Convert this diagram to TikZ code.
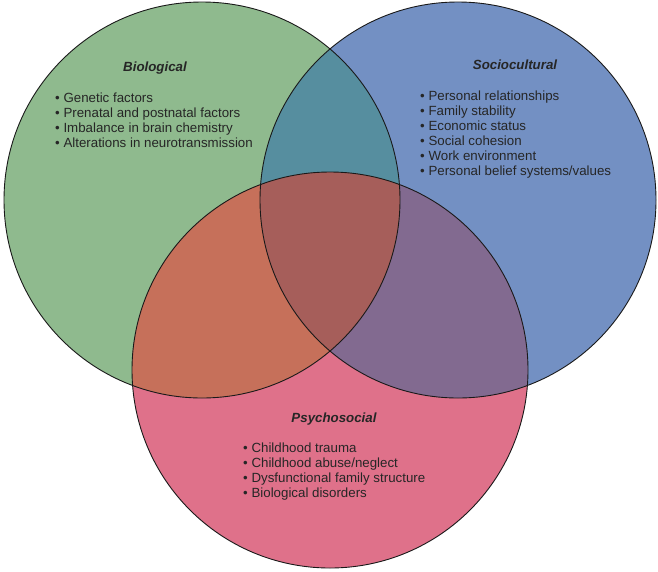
\documentclass[tikz,border=0pt]{standalone}
\usepackage{fontspec}
\setmainfont{Liberation Sans}
\definecolor{bioboja}{RGB}{143,186,142}
\definecolor{socboja}{RGB}{115,144,195}
\definecolor{psiboja}{RGB}{223,113,138}
\definecolor{biosoc}{RGB}{86,142,159}
\definecolor{biopsi}{RGB}{198,112,90}
\definecolor{socpsi}{RGB}{130,106,144}
\definecolor{sredina}{RGB}{166,94,90}
\tikzset{
  krug/.style={draw=black!90,line width=0.9pt},
  naslov/.style={font=\fontsize{13.3}{15}\selectfont\bfseries\itshape,text=black!85,
                 anchor=base,inner sep=0pt},
  stavka/.style={font=\fontsize{13.3}{15}\selectfont,text=black!85,
                 anchor=base west,inner sep=0pt},
}

\begin{document}
\begin{tikzpicture}[x=1pt,y=-1pt]
  \useasboundingbox (0,0) rectangle (658,571);

  % ---------- CENTRI KRUGOVA ----------
  \coordinate (bio) at (202,200);
  \coordinate (soc) at (458,200);
  \coordinate (psi) at (330,370);

  % ---------- POVRSINE ----------
  \fill[bioboja] (bio) circle (198pt);
  \fill[socboja] (soc) circle (198pt);
  \fill[psiboja] (psi) circle (198pt);

  % preseci: prvo soc/psi, pa sve sto sece bio
  \begin{scope}
    \clip (soc) circle (198pt);
    \fill[socpsi] (psi) circle (198pt);
  \end{scope}
  \begin{scope}
    \clip (bio) circle (198pt);
    \fill[biosoc] (soc) circle (198pt);
    \fill[biopsi] (psi) circle (198pt);
    \clip (soc) circle (198pt);
    \fill[sredina] (psi) circle (198pt);
  \end{scope}

  \foreach \c in {bio,soc,psi}
    \draw[krug] (\c) circle (198pt);

  % ---------- BIOLOSKI ----------
  \node[naslov] (bioNaslov) at (155,71) {Biological};
  \foreach \t [count=\i] in {Genetic factors,Prenatal and postnatal factors,
      Imbalance in brain chemistry,Alterations in neurotransmission}
    \node[stavka] (bio\i) at (55,{102+15*(\i-1)}) {• \t};

  % ---------- SOCIOKULTURNI ----------
  \node[naslov] (socNaslov) at (515,69) {Sociocultural};
  \foreach \t [count=\i] in {Personal relationships,Family stability,Economic status,
      Social cohesion,Work environment,Personal belief systems/values}
    \node[stavka] (soc\i) at (420,{100+15*(\i-1)}) {• \t};

  % ---------- PSIHOSOCIJALNI ----------
  \node[naslov] (psiNaslov) at (334,422) {Psychosocial};
  \foreach \t [count=\i] in {Childhood trauma,Childhood abuse/neglect,
      Dysfunctional family structure,Biological disorders}
    \node[stavka] (psi\i) at (243,{452+15*(\i-1)}) {• \t};

\end{tikzpicture}
\end{document}
